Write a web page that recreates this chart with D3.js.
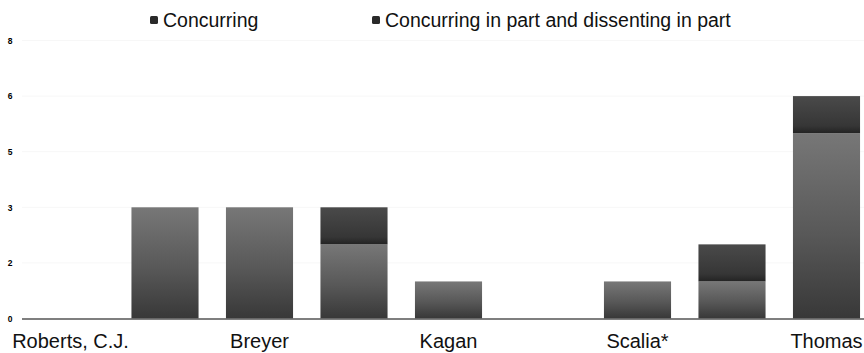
<!DOCTYPE html>
<html><head><meta charset="utf-8">
<script src="https://cdn.jsdelivr.net/npm/d3@7"></script>
<style>html,body{margin:0;padding:0;background:#fff;}svg{display:block;}</style>
</head><body>
<svg id="chart" width="864" height="353"></svg>
<script>
const justices = ["Roberts, C.J.", "Alito", "Breyer", "Ginsburg", "Kagan", "Kennedy", "Scalia*", "Sotomayor", "Thomas"];
const shownLabels = ["Roberts, C.J.", "Breyer", "Kagan", "Scalia*", "Thomas"];
const concurring = [0, 3, 3, 2, 1, 0, 1, 1, 5];
const partial = [0, 0, 0, 1, 0, 0, 0, 1, 1];
const seriesNames = ["Concurring", "Concurring in part and dissenting in part"];
const yTicks = [0, 1.5, 3, 4.5, 6, 7.5];

const svg = d3.select("#chart");
const x = d3.scaleBand().domain(justices).range([23.25, 873.75]).paddingInner(0.29).paddingOuter(0.145);
const y = d3.scaleLinear().domain([0, 7.5]).range([318.5, 40.5]);

const defs = svg.append("defs");
const g1 = defs.append("linearGradient").attr("id","gConc").attr("x1",0).attr("y1",0).attr("x2",0).attr("y2",1);
g1.append("stop").attr("offset","0%").attr("stop-color","#777777");
g1.append("stop").attr("offset","55%").attr("stop-color","#585858");
g1.append("stop").attr("offset","100%").attr("stop-color","#383838");
const g2 = defs.append("linearGradient").attr("id","gPart").attr("x1",0).attr("y1",0).attr("x2",0).attr("y2",1);
g2.append("stop").attr("offset","0%").attr("stop-color","#4a4a4a");
g2.append("stop").attr("offset","80%").attr("stop-color","#363636");
g2.append("stop").attr("offset","100%").attr("stop-color","#232323");

// faint gridlines
svg.append("g").selectAll("line").data(yTicks.slice(1)).join("line")
  .attr("x1", 22).attr("x2", 864).attr("y1", d => y(d)).attr("y2", d => y(d))
  .attr("stroke", "#f7f7f7").attr("stroke-width", 1);

// y axis labels
const yAxis = d3.axisLeft(y).tickValues(yTicks).tickSize(0).tickFormat(d => d3.format(".0f")(Math.round(d)));
const ya = svg.append("g").attr("transform","translate(17,0)").call(yAxis);
ya.select(".domain").remove();
ya.selectAll("text").attr("font-family","Liberation Sans, Arial, sans-serif").attr("font-size",8.5).attr("font-weight","bold").attr("fill","#000").attr("text-anchor","middle").attr("dx",-4);

// bars
const stackData = justices.map((j,i) => ({j, c: concurring[i], p: partial[i]}));
const bars = svg.append("g");
bars.selectAll("rect.c").data(stackData.filter(d => d.c > 0)).join("rect")
  .attr("class","c").attr("x", d => x(d.j)).attr("width", x.bandwidth())
  .attr("y", d => y(d.c)).attr("height", d => y(0) - y(d.c)).attr("fill","url(#gConc)");
bars.selectAll("rect.p").data(stackData.filter(d => d.p > 0)).join("rect")
  .attr("class","p").attr("x", d => x(d.j)).attr("width", x.bandwidth())
  .attr("y", d => y(d.c + d.p)).attr("height", d => y(d.c) - y(d.c + d.p)).attr("fill","url(#gPart)");

// baseline
svg.append("line").attr("x1", 22).attr("x2", 864).attr("y1", y(0)+0.5).attr("y2", y(0)+0.5)
  .attr("stroke","#555").attr("stroke-width",1.5);

// x axis labels
const xAxis = d3.axisBottom(x).tickSize(0).tickFormat(d => shownLabels.includes(d) ? d : "");
const xa = svg.append("g").attr("transform",`translate(0,${y(0)})`).call(xAxis);
xa.select(".domain").remove();
xa.selectAll("text").attr("font-family","Liberation Sans, Arial, sans-serif").attr("font-size",20).attr("fill","#111").attr("dy","1.3em");

// legend
const legendX = [150, 372];
const lg = svg.append("g");
seriesNames.forEach((name, i) => {
  lg.append("rect").attr("x", legendX[i]).attr("y", 16).attr("width", 8).attr("height", 8).attr("rx",1.5).attr("fill","#2a2a2a");
  lg.append("text").attr("x", legendX[i] + 13).attr("y", 27).attr("font-family","Liberation Sans, Arial, sans-serif")
    .attr("font-size",19.5).attr("fill","#111").text(name);
});
</script>
</body></html>
